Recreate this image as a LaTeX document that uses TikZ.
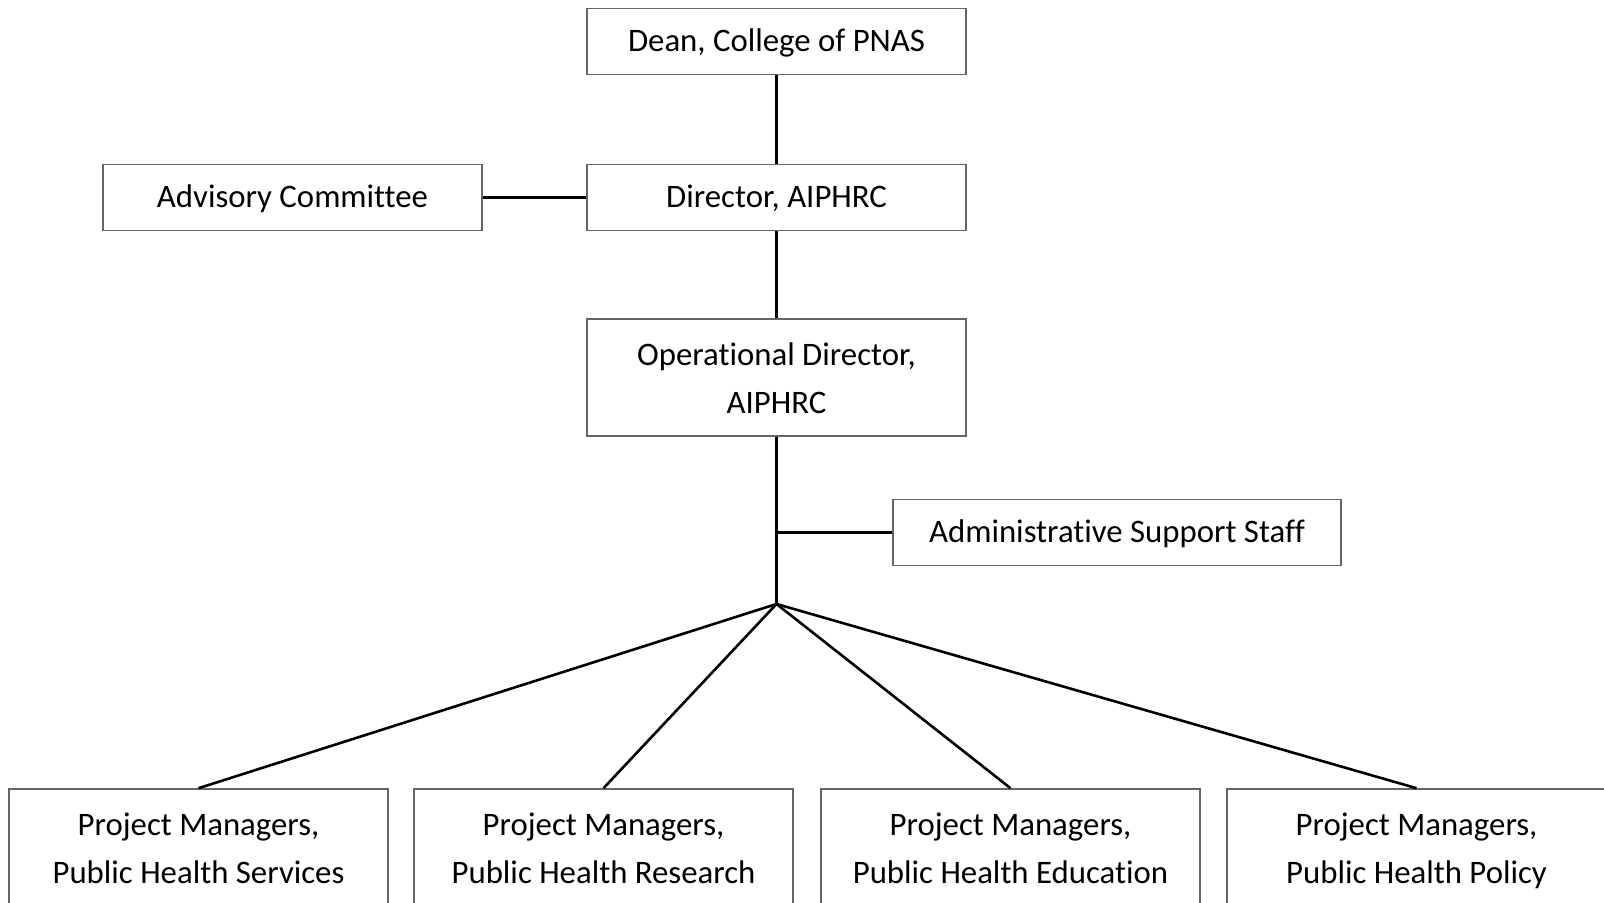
\documentclass[tikz,border=0pt]{standalone}
\usepackage{fontspec}
\setmainfont{Carlito}[Ligatures=NoCommon]
\usetikzlibrary{arrows,shapes}
\begin{document}
\begin{tikzpicture}[x=0.5pt,y=-0.5pt]
		\tikzstyle{box}=[draw=black!60, line width=0.8pt, fill=white, inner sep=0pt, minimum width=189.5pt, minimum height=33pt, align=center, font=\fontsize{16.4}{24}\selectfont, execute at begin node=\strut, execute at end node=\strut]
		\tikzstyle{tall}=[box, minimum height=58.5pt, execute at begin node={}, execute at end node={}, text height=45pt, text depth=9pt]
		\tikzstyle{link}=[black, line width=1.3pt]
		\useasboundingbox (0,0) rectangle (1604,903);
		\node [box] (dean) at (776.5,41.5) {Dean, College of PNAS};
		\node [box] (dir) at (776.5,197.5) {Director, AIPHRC};
		\node [box] (adv) at (292.5,197.5) {Advisory Committee};
		\node [tall] (opdir) at (776.5,377.5) {Operational Director,\\AIPHRC};
		\node [box, minimum width=224pt] (admin) at (1117,532.5) {Administrative Support Staff};
		\coordinate (hub) at (776.5,604);
		\node [tall] (pmserv) at (198.5,847.5) {Project Managers,\\Public Health Services};
		\node [tall] (pmres) at (603.5,847.5) {Project Managers,\\Public Health Research};
		\node [tall] (pmedu) at (1010.5,847.5) {Project Managers,\\Public Health Education};
		\node [tall] (pmpol) at (1416.5,847.5) {Project Managers,\\Public Health Policy};
		\draw [link] (dean) -- (dir);
		\draw [link] (adv) -- (dir);
		\draw [link] (dir) -- (opdir);
		\draw [link] (opdir) -- (hub);
		\coordinate (tap) at (opdir.south |- admin.west);
		\draw [link] (tap) -- (admin);
		\foreach \pm in {pmserv,pmres,pmedu,pmpol}
			\draw [link] (hub) -- (\pm.north);
\end{tikzpicture}
\end{document}
